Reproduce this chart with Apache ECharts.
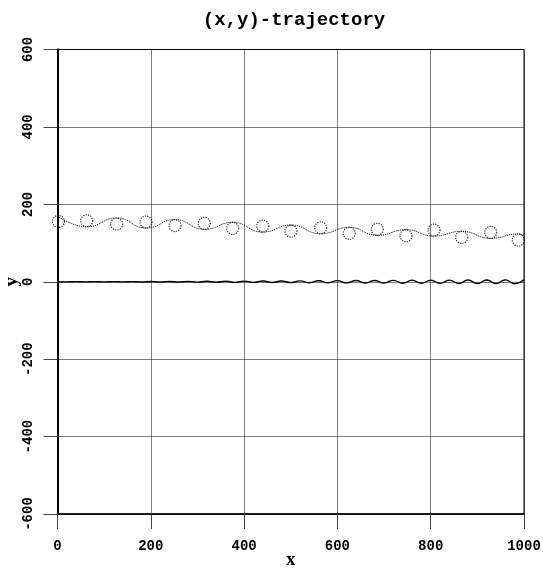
<!DOCTYPE html>
<html>
<head>
<meta charset="utf-8">
<script src="https://cdn.jsdelivr.net/npm/echarts@6/dist/echarts.min.js"></script>
<style>
  html, body { margin: 0; padding: 0; background: #fff; }
  #chart { width: 543px; height: 569px; }
</style>
</head>
<body>
<div id="chart"></div>
<script>
// Axis ticks
const xTicks = [0, 200, 400, 600, 800, 1000];
const yTicks = [-600, -400, -200, 0, 200, 400, 600];

// Upper trajectory: the wavy dotted path (turning points)
const pathX = [0, 62.6, 126.9, 189.7, 251.9, 314.7, 375.6, 439.9, 500.5, 564.2, 625.5, 685.5, 747.0, 807.1, 866.4, 928.6, 987.8, 1000];
const pathY = [169.8, 142.1, 164.6, 138.8, 160.7, 135.4, 153.5, 128.4, 146.5, 124.0, 140.6, 119.9, 134.4, 118.1, 130.2, 112.1, 123.3, 121.0];

// Upper trajectory: the small loops along the path
const loopX = [2, 62.6, 126.9, 189.7, 251.9, 314.7, 375.6, 439.9, 500.5, 564.2, 625.5, 685.5, 747.0, 807.1, 866.4, 928.6, 987.8];
const loopY = [155.7, 157.6, 149.1, 154.3, 145.2, 150.9, 138.0, 143.9, 131.0, 139.5, 125.1, 135.4, 118.9, 133.6, 114.7, 127.6, 107.8];

// Lower trajectory: slowly growing ripple around y = 0
const rippleX = [0, 20, 40, 60, 80, 100, 120, 140, 160, 180, 200, 220, 240, 260, 280, 300, 320, 340, 360, 380,
                 400, 420, 440, 460, 480, 500, 520, 540, 560, 580, 600, 620, 640, 660, 680, 700, 720, 740, 760, 780,
                 800, 820, 840, 860, 880, 900, 920, 940, 960, 980, 1000];
const rippleY = [0.1, -0.2, 0.2, -0.2, 0.2, -0.3, 0.3, -0.4, 0.4, -0.5, 0.5, -0.6, 0.7, -0.8, 0.9, -1.0, 1.1, -1.2, 1.3, -1.5,
                 1.6, -1.7, 1.8, -2.0, 2.1, -2.2, 2.3, -2.5, 2.6, -2.7, 2.8, -3.0, 3.1, -3.2, 3.3, -3.4, 3.6, -3.7, 3.8, -3.9,
                 4.0, -4.2, 4.3, -4.4, 4.5, -4.6, 4.7, -4.8, 4.9, -5.0, 5.0];

const zip = (xs, ys) => xs.map((x, i) => [x, ys[i]]);

const FONT = "'Liberation Mono', 'DejaVu Sans Mono', monospace";
const SERIF = "'Liberation Serif', serif";

const chart = echarts.init(document.getElementById('chart'), null, { renderer: 'canvas' });

chart.setOption({
  animation: false,
  backgroundColor: '#fff',
  title: {
    text: '(x,y)-trajectory',
    left: 289,
    top: 6,
    textAlign: 'center',
    textStyle: { fontFamily: FONT, fontWeight: 'bold', fontSize: 19, color: '#000' }
  },
  grid: {
    left: 57.5, right: 19, top: 49.5, bottom: 55,
    containLabel: false, outerBoundsMode: 'none',
    show: true, borderColor: '#000', borderWidth: 1, backgroundColor: 'transparent'
  },
  xAxis: [{
    type: 'value', min: xTicks[0], max: xTicks[xTicks.length - 1], interval: 200,
    name: 'x', nameLocation: 'middle', nameGap: 37, nameMoveOverlap: false,
    nameTextStyle: { fontFamily: SERIF, fontWeight: 'bold', fontSize: 19, color: '#000' },
    axisLine: { show: true, onZero: false, lineStyle: { color: '#000', width: 1.5 } },
    axisTick: { show: true, inside: false, length: 15, lineStyle: { color: '#444', width: 1 } },
    axisLabel: { margin: 25, fontFamily: FONT, fontWeight: 'bold', fontSize: 14, color: '#000',
                 formatter: v => String(v) },
    splitLine: { show: true, lineStyle: { color: '#000', width: 1, type: [1, 1] } }
  }],
  yAxis: [{
    type: 'value', min: yTicks[0], max: yTicks[yTicks.length - 1], interval: 200,
    name: 'y', nameLocation: 'middle', nameGap: 36, nameRotate: 90, nameMoveOverlap: false,
    nameTextStyle: { fontFamily: SERIF, fontWeight: 'bold', fontSize: 19, color: '#000' },
    axisLine: { show: true, onZero: false, lineStyle: { color: '#000', width: 2 } },
    axisTick: { show: true, inside: false, length: 14, lineStyle: { color: '#444', width: 1 } },
    axisLabel: { rotate: 90, margin: 22, fontFamily: FONT, fontWeight: 'bold', fontSize: 14, color: '#000',
                 formatter: v => String(v) },
    splitLine: { show: true, lineStyle: { color: '#000', width: 1, type: [1, 1] } }
  }, {
    // right-hand frame edge
    type: 'value', position: 'right', min: yTicks[0], max: yTicks[yTicks.length - 1], interval: 200,
    axisLine: { show: true, lineStyle: { color: '#000', width: 2 } },
    axisTick: { show: false }, axisLabel: { show: false }, splitLine: { show: false }
  }],
  series: [{
    type: 'line',
    data: zip(pathX, pathY),
    smooth: 0.5,
    showSymbol: false,
    lineStyle: { color: '#000', width: 1, type: [1, 1] },
    z: 3
  }, {
    type: 'scatter',
    data: zip(loopX, loopY),
    symbol: 'circle',
    symbolSize: 12,
    itemStyle: { color: 'transparent', borderColor: '#000', borderWidth: 1.2, borderType: [1.2, 1.2] },
    z: 4
  }, {
    type: 'line',
    data: zip(rippleX, rippleY),
    smooth: 0.5,
    showSymbol: false,
    lineStyle: { color: '#000', width: 1.4 },
    z: 5
  }]
});
</script>
</body>
</html>
